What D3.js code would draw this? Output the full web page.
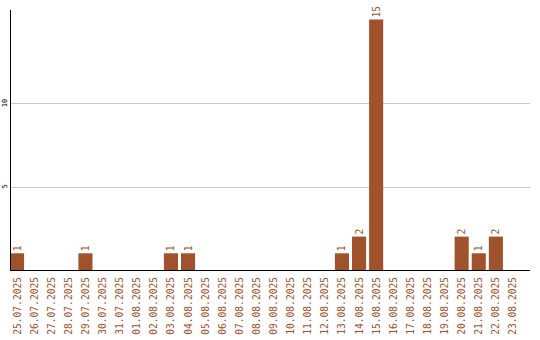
<!DOCTYPE html>
<html>
<head>
<meta charset="utf-8">
<script src="https://cdn.jsdelivr.net/npm/d3@7"></script>
<style>
  body { margin: 0; background: #fff; }
  svg text { font-family: "DejaVu Sans Mono", monospace; }
</style>
</head>
<body>
<div id="chart"></div>
<script>
'use strict';

// dates along the x axis
const dates = ['25.07.2025', '26.07.2025', '27.07.2025', '28.07.2025', '29.07.2025', '30.07.2025',
    '31.07.2025', '01.08.2025', '02.08.2025', '03.08.2025', '04.08.2025', '05.08.2025',
    '06.08.2025', '07.08.2025', '08.08.2025', '09.08.2025', '10.08.2025', '11.08.2025',
    '12.08.2025', '13.08.2025', '14.08.2025', '15.08.2025', '16.08.2025', '17.08.2025',
    '18.08.2025', '19.08.2025', '20.08.2025', '21.08.2025', '22.08.2025', '23.08.2025'];
const counts = [1, 0, 0, 0, 1, 0, 0, 0, 0, 1, 1, 0, 0, 0, 0, 0, 0, 0, 0, 1, 2, 15, 0, 0, 0, 0, 2, 1, 2, 0];
const yTicks = [5, 10];

let w = 540, h = 340;
let mLeft = 10, mTop = 10, mBottom = 270, mRight = 530;
let barColor = '#a0522d';

let svg = d3.select('#chart').append('svg').attr('width', w).attr('height', h);

let x = d3.scaleBand().domain(dates).range([mLeft, mLeft + 17 * dates.length]).paddingInner(3 / 17).paddingOuter(0).align(0);
let y = d3.scaleLinear().domain([0, 15]).range([mBottom, mBottom - 15 * 16.7]);

//gridlines
svg.append('g').selectAll('line').data(yTicks).join('line')
    .attr('x1', mLeft).attr('x2', mRight)
    .attr('y1', d => Math.round(y(d)) + 0.5).attr('y2', d => Math.round(y(d)) + 0.5)
    .attr('stroke', '#c8c8c8');

//y tick labels, rotated
svg.append('g').selectAll('text').data(yTicks).join('text')
    .attr('transform', d => `translate(7,${y(d)}) rotate(-90)`)
    .attr('text-anchor', 'middle')
    .attr('font-size', 7)
    .attr('fill', '#000')
    .text(d => d);

//bars
let data = dates.map((d, i) => ({date: d, value: counts[i]}));
svg.append('g').selectAll('rect').data(data.filter(d => d.value > 0)).join('rect')
    .attr('x', d => x(d.date))
    .attr('y', d => y(d.value))
    .attr('width', x.bandwidth())
    .attr('height', d => mBottom - y(d.value))
    .attr('fill', barColor);

//value labels
svg.append('g').selectAll('text').data(data.filter(d => d.value > 0)).join('text')
    .attr('transform', d => `translate(${x(d.date) + x.bandwidth() / 2 + 3.5},${y(d.value) - 2}) rotate(-90)`)
    .attr('font-size', 9.6)
    .attr('fill', barColor)
    .text(d => d.value);

//axes lines
svg.append('line').attr('x1', mLeft + 0.5).attr('x2', mLeft + 0.5).attr('y1', mTop).attr('y2', mBottom + 1)
    .attr('stroke', '#000');
svg.append('line').attr('x1', mLeft).attr('x2', mRight).attr('y1', mBottom + 0.5).attr('y2', mBottom + 0.5)
    .attr('stroke', '#000');

//x labels
svg.append('g').selectAll('text').data(dates).join('text')
    .attr('transform', d => `translate(${x(d) + x.bandwidth() / 2 + 3.5},277) rotate(-90)`)
    .attr('text-anchor', 'end')
    .attr('font-size', 9.6)
    .attr('fill', barColor)
    .text(d => d);
</script>
</body>
</html>
